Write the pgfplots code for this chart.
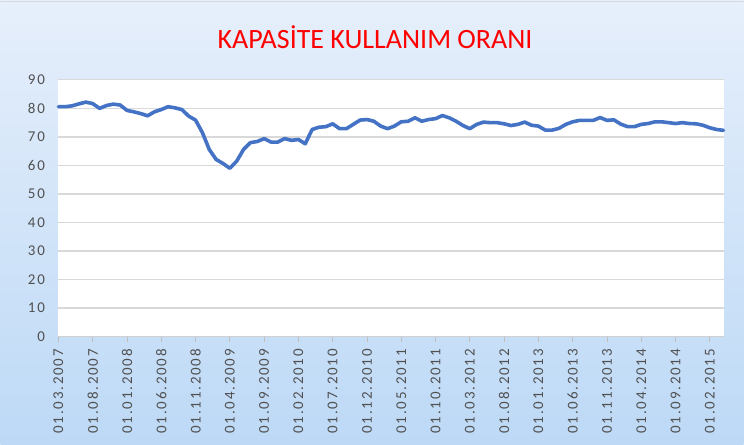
\documentclass[border=0pt]{standalone}
\usepackage{pgfplots}
\pgfplotsset{compat=1.18}
\usepackage{fontspec}
\setmainfont{Carlito}
\newfontfamily\tickfont[LetterSpace=12]{Carlito}
\definecolor{bgtop}{RGB}{230,239,251}
\definecolor{bgbot}{RGB}{189,217,246}
\definecolor{linecol}{RGB}{68,114,196}
\definecolor{ticktext}{RGB}{80,80,80}
\begin{document}
\begin{tikzpicture}[x=1pt,y=1pt]
\shade[top color=bgtop, bottom color=bgbot] (0,0) rectangle (744,445);
\draw[black!15, line width=1pt] (0,443) -- (744,443);
\node[text=red, font=\fontsize{28}{28}\selectfont] at (375,407.5) {KAPASİTE KULLANIM ORANI};
\begin{axis}[
  at={(58pt,108pt)}, anchor=south west,
  width=666pt, height=257pt, scale only axis,
  xmin=0, xmax=97, ymin=0, ymax=90,
  axis background/.style={fill=white},
  axis x line=bottom, axis y line=left,
  x axis line style={draw=black!18, line width=1.2pt, -},
  y axis line style={draw=none, -},
  ymajorgrids, grid style={draw=black!15, line width=1.2pt},
  ytick={0,10,...,90},
  xtick={0,5,...,95},
  xticklabels={01.03.2007,01.08.2007,01.01.2008,01.06.2008,01.11.2008,01.04.2009,01.09.2009,01.02.2010,01.07.2010,01.12.2010,01.05.2011,01.10.2011,01.03.2012,01.08.2012,01.01.2013,01.06.2013,01.11.2013,01.04.2014,01.09.2014,01.02.2015},
  tick align=outside,
  ytick style={draw=none},
  xtick style={draw=black!25, line width=0.8pt},
  major tick length=5pt,
  xticklabel shift=4pt,
  yticklabel shift=5pt,
  /pgf/number format/assume math mode=true,
  ticklabel style={font=\tickfont\fontsize{15}{15}\selectfont, text=ticktext},
  xticklabel style={rotate=90, anchor=east},
  clip=false,
]
\addplot[color=linecol, line width=3.6pt, line join=round, line cap=round] coordinates {
(0,80.6)(1,80.6)(2,80.9)(3,81.6)(4,82.2)(5,81.7)(6,80.0)(7,81.0)(8,81.5)(9,81.2)
(10,79.3)(11,78.8)(12,78.2)(13,77.4)(14,78.8)(15,79.6)(16,80.6)(17,80.2)(18,79.6)(19,77.3)
(20,75.9)(21,71.5)(22,65.6)(23,62.1)(24,60.7)(25,59.0)(26,61.5)(27,65.6)(28,68.0)(29,68.4)
(30,69.4)(31,68.2)(32,68.2)(33,69.4)(34,68.8)(35,69.1)(36,67.6)(37,72.6)(38,73.4)(39,73.6)
(40,74.6)(41,72.9)(42,72.9)(43,74.4)(44,75.9)(45,76.1)(46,75.5)(47,73.8)(48,72.9)(49,73.8)
(50,75.3)(51,75.5)(52,76.7)(53,75.5)(54,76.1)(55,76.4)(56,77.5)(57,76.7)(58,75.5)(59,74.0)
(60,72.9)(61,74.4)(62,75.2)(63,75.0)(64,75.0)(65,74.6)(66,74.0)(67,74.4)(68,75.2)(69,74.1)
(70,73.8)(71,72.4)(72,72.4)(73,73.0)(74,74.4)(75,75.3)(76,75.8)(77,75.8)(78,75.8)(79,76.8)
(80,75.8)(81,76.0)(82,74.5)(83,73.6)(84,73.6)(85,74.4)(86,74.7)(87,75.3)(88,75.3)(89,75.0)
(90,74.7)(91,75.0)(92,74.7)(93,74.6)(94,74.1)(95,73.2)(96,72.6)(97,72.3)
};
\end{axis}
\end{tikzpicture}
\end{document}
